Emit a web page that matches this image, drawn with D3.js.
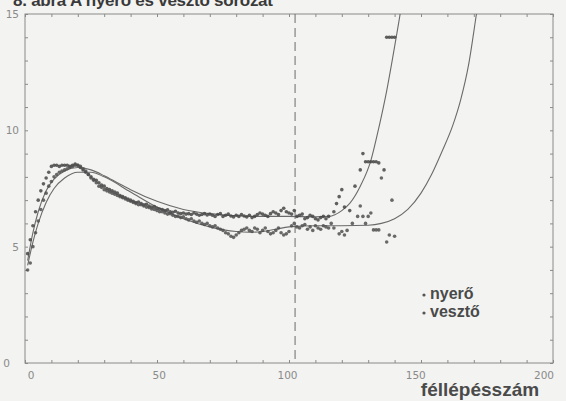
<!DOCTYPE html>
<html>
<head>
<meta charset="utf-8">
<script src="https://cdn.jsdelivr.net/npm/d3@7"></script>
<style>
  html, body { margin: 0; padding: 0; background: #f3f3f1; }
  svg { display: block; }
  .frame { fill: none; stroke: #8a8a8a; stroke-width: 1; }
  .tick-lbl { font-family: "DejaVu Sans", sans-serif; font-size: 10.5px; fill: #8a8a8a; }
</style>
</head>
<body>
<svg id="chart" width="566" height="401"></svg>
<script>
// ── Data ─────────────────────────────────────────────────────────────────────

// dense part: one value per féllépés, x = 1 .. 115
const nyeroDense = [
  4.7, 5.3, 5.9, 6.5, 7.0, 7.4, 7.7, 7.95, 8.2, 8.45,
  8.5, 8.5, 8.45, 8.5, 8.5, 8.5, 8.45, 8.5, 8.55, 8.5,
  8.4, 8.3, 8.2, 8.1, 8.0, 7.9, 7.85, 7.75, 7.65, 7.6,
  7.5, 7.45, 7.4, 7.35, 7.3, 7.2, 7.15, 7.1, 7.05, 7.0,
  6.95, 6.9, 6.92, 6.85, 6.8, 6.82, 6.75, 6.7, 6.72, 6.65,
  6.62, 6.6, 6.55, 6.58, 6.5, 6.48, 6.52, 6.45, 6.42, 6.45,
  6.4, 6.42, 6.38, 6.45, 6.4, 6.35, 6.38, 6.42, 6.36, 6.4,
  6.35, 6.3, 6.38, 6.42, 6.3, 6.35, 6.4, 6.32, 6.28, 6.35,
  6.3, 6.38, 6.32, 6.28, 6.35, 6.25, 6.3, 6.38, 6.45, 6.4,
  6.35, 6.3, 6.42, 6.5, 6.45, 6.38, 6.55, 6.65, 6.5, 6.45,
  6.4, 6.55, 6.3, 6.35, 6.4, 6.2, 6.25, 6.35, 6.3, 6.2,
  6.15, 6.25, 6.3, 6.2, 6.3
];
const vesztoDense = [
  4.0, 4.3, 5.0, 5.6, 6.1, 6.6, 7.0, 7.3, 7.6, 7.8,
  8.0, 8.1, 8.2, 8.25, 8.3, 8.35, 8.4, 8.45, 8.5, 8.5,
  8.45, 8.35, 8.25, 8.1, 7.95, 7.85, 7.75, 7.6, 7.55, 7.45,
  7.4, 7.35, 7.3, 7.25, 7.2, 7.15, 7.1, 7.05, 7.0, 6.95,
  6.9, 6.85, 6.8, 6.8, 6.75, 6.7, 6.68, 6.62, 6.6, 6.55,
  6.5, 6.5, 6.45, 6.4, 6.42, 6.35, 6.3, 6.3, 6.25, 6.28,
  6.2, 6.15, 6.2, 6.1, 6.05, 6.1, 6.0, 5.95, 6.0, 5.9,
  5.85, 5.9, 5.8, 5.75, 5.7, 5.6, 5.55, 5.45, 5.4, 5.5,
  5.6, 5.7, 5.75, 5.8, 5.7, 5.65, 5.8, 5.75, 5.6, 5.7,
  5.8, 5.65, 5.55, 5.6, 5.7, 5.8, 5.6, 5.5, 5.55, 5.65,
  5.9, 6.0, 5.85, 5.8, 5.9, 5.95, 5.75, 5.85, 5.7, 5.9,
  5.8, 5.75, 5.9, 5.85, 5.8
];

// sparse tail after 115
const nyeroTailX = [117, 118, 119, 120, 121, 123, 125, 127, 128, 129, 130, 131, 132, 133, 134, 136, 137, 138, 139, 140];
const nyeroTailY = [6.5, 6.85, 7.15, 7.45, 6.7, 6.55, 7.6, 8.3, 9.0, 8.65, 8.65, 8.65, 8.65, 8.65, 8.6, 8.3, 14.0, 14.0, 14.0, 14.0];
const vesztoTailX = [116, 117, 119, 120, 121, 122, 124, 126, 127, 128, 129, 130, 131, 132, 133, 134, 135, 137, 138, 139, 140];
const vesztoTailY = [6.0, 5.8, 5.55, 5.65, 5.5, 5.7, 6.0, 6.3, 6.75, 6.3, 6.0, 6.3, 6.45, 5.72, 5.72, 5.72, 7.95, 5.2, 5.5, 7.0, 5.45];

// fitted curves
const fitNyeroX = [1, 3, 5, 8, 11, 15, 20, 25, 30, 35, 40, 50, 60, 70, 80, 90, 100, 110, 115, 120, 123, 127, 131, 134, 137, 140, 142.5, 144];
const fitNyeroY = [4.4, 5.6, 6.5, 7.4, 7.9, 8.25, 8.4, 8.3, 8.05, 7.75, 7.45, 6.95, 6.6, 6.42, 6.33, 6.3, 6.3, 6.28, 6.3, 6.55, 6.86, 7.6, 8.7, 10.1, 11.7, 13.6, 15.3, 16.5];
const fitVesztoX = [1, 3, 5, 8, 11, 15, 20, 25, 30, 40, 50, 60, 70, 80, 85, 90, 95, 100, 110, 120, 130, 135, 140, 145, 150, 154, 158, 162, 165, 168, 171, 173];
const fitVesztoY = [4.2, 5.2, 6.0, 6.9, 7.5, 7.95, 8.2, 8.2, 8.0, 7.35, 6.7, 6.2, 5.85, 5.65, 5.62, 5.65, 5.75, 5.85, 5.9, 5.9, 5.92, 6.0, 6.2, 6.6, 7.3, 8.1, 9.1, 10.2, 11.3, 12.8, 15.0, 16.5];

const xTickLabels = [0, 50, 100, 150, 200];
const yTickLabels = [0, 5, 10, 15];
const dashedAt = 102.3;
const legendLabels = ["nyerő", "vesztő"];

// ── Chart ────────────────────────────────────────────────────────────────────

const svg = d3.select("#chart");
const x = d3.scaleLinear().domain([0, 200]).range([25, 553]);
const y = d3.scaleLinear().domain([0, 15]).range([363, 14]);
// the printed tick numbers sit a little inside the tick positions
const xLabel = d3.scaleLinear().domain([0, 200]).range([31, 544]);

// title, mostly cut off at the top edge (as in the scan)
svg.append("text")
  .attr("x", 13).attr("y", 6)
  .attr("font-family", "Liberation Sans, Arial, sans-serif")
  .attr("font-size", 17).attr("font-weight", "bold")
  .attr("fill", "#3a3a3a")
  .attr("textLength", 260)
  .text("8. ábra A nyerő és vesztő sorozat");

svg.append("defs").append("clipPath").attr("id", "plot-clip")
  .append("rect")
  .attr("x", x(0)).attr("y", y(15))
  .attr("width", x(200) - x(0)).attr("height", y(0) - y(15));

// minor ticks on all four sides, pointing inward
const tickCol = "#8a8a8a";
function styleAxis(g) {
  g.select(".domain").remove();
  g.selectAll("line").attr("stroke", tickCol);
}
svg.append("g").attr("transform", `translate(0,${y(0)})`)
  .call(d3.axisBottom(x).tickValues(d3.range(0, 201, 10)).tickSize(-3).tickFormat(""))
  .call(styleAxis);
svg.append("g").attr("transform", `translate(0,${y(15)})`)
  .call(d3.axisTop(x).tickValues(d3.range(0, 201, 10)).tickSize(-3).tickFormat(""))
  .call(styleAxis);
svg.append("g").attr("transform", `translate(${x(0)},0)`)
  .call(d3.axisLeft(y).tickValues(d3.range(0, 16, 1)).tickSize(-3).tickFormat(""))
  .call(styleAxis);
svg.append("g").attr("transform", `translate(${x(200)},0)`)
  .call(d3.axisRight(y).tickValues(d3.range(0, 16, 1)).tickSize(-3).tickFormat(""))
  .call(styleAxis);

svg.append("rect").attr("class", "frame")
  .attr("x", x(0)).attr("y", y(15))
  .attr("width", x(200) - x(0)).attr("height", y(0) - y(15));

// tick labels
svg.append("g").selectAll("text")
  .data(xTickLabels).join("text")
  .attr("class", "tick-lbl")
  .attr("x", (d) => xLabel(d))
  .attr("y", y(0) + 16)
  .attr("text-anchor", "middle")
  .text((d) => d);
svg.append("g").selectAll("text")
  .data(yTickLabels).join("text")
  .attr("class", "tick-lbl")
  .attr("x", (d) => (d === 0 ? 10 : 19))
  .attr("y", (d) => y(d) + 4)
  .attr("text-anchor", "end")
  .text((d) => d);

// dashed vertical line
svg.append("line")
  .attr("x1", x(dashedAt)).attr("x2", x(dashedAt))
  .attr("y1", y(15)).attr("y2", y(0))
  .attr("stroke", "#6a6a6a").attr("stroke-width", 1)
  .attr("stroke-dasharray", "9,5");

const plot = svg.append("g").attr("clip-path", "url(#plot-clip)");

// fitted curves
const line = d3.line()
  .x((d) => x(d[0]))
  .y((d) => y(d[1]))
  .curve(d3.curveMonotoneX);

for (const [fx, fy] of [[fitNyeroX, fitNyeroY], [fitVesztoX, fitVesztoY]]) {
  plot.append("path")
    .datum(fx.map((v, i) => [v, fy[i]]))
    .attr("fill", "none")
    .attr("stroke", "#6a6a6a")
    .attr("stroke-width", 1.1)
    .attr("d", line);
}

// points
function toPoints(dense, tailX, tailY) {
  return dense.map((v, i) => [i + 1, v]).concat(tailX.map((v, i) => [v, tailY[i]]));
}
const series = [
  { pts: toPoints(nyeroDense, nyeroTailX, nyeroTailY), color: "#454545" },
  { pts: toPoints(vesztoDense, vesztoTailX, vesztoTailY), color: "#505050" },
];
for (const s of series) {
  plot.append("g").selectAll("circle")
    .data(s.pts).join("circle")
    .attr("cx", (d) => x(d[0]))
    .attr("cy", (d) => y(d[1]))
    .attr("r", 1.8)
    .attr("fill", s.color)
    .attr("opacity", 0.85);
}

// legend
const legend = svg.append("g").attr("transform", "translate(424,0)");
legend.selectAll("circle")
  .data(legendLabels).join("circle")
  .attr("cx", 0)
  .attr("cy", (d, i) => 295 + i * 18)
  .attr("r", 1.6)
  .attr("fill", "#555");
legend.selectAll("text")
  .data(legendLabels).join("text")
  .attr("x", 6)
  .attr("y", (d, i) => 299 + i * 18)
  .attr("font-family", "Liberation Sans, Arial, sans-serif")
  .attr("font-size", 16)
  .attr("font-weight", "bold")
  .attr("fill", "#4a4a4a")
  .text((d) => d);

// axis title
svg.append("text")
  .attr("x", 480).attr("y", 396)
  .attr("text-anchor", "middle")
  .attr("font-family", "Liberation Sans, Arial, sans-serif")
  .attr("font-size", 19)
  .attr("font-weight", "bold")
  .attr("fill", "#4a4a4a")
  .text("féllépésszám");
</script>
</body>
</html>
